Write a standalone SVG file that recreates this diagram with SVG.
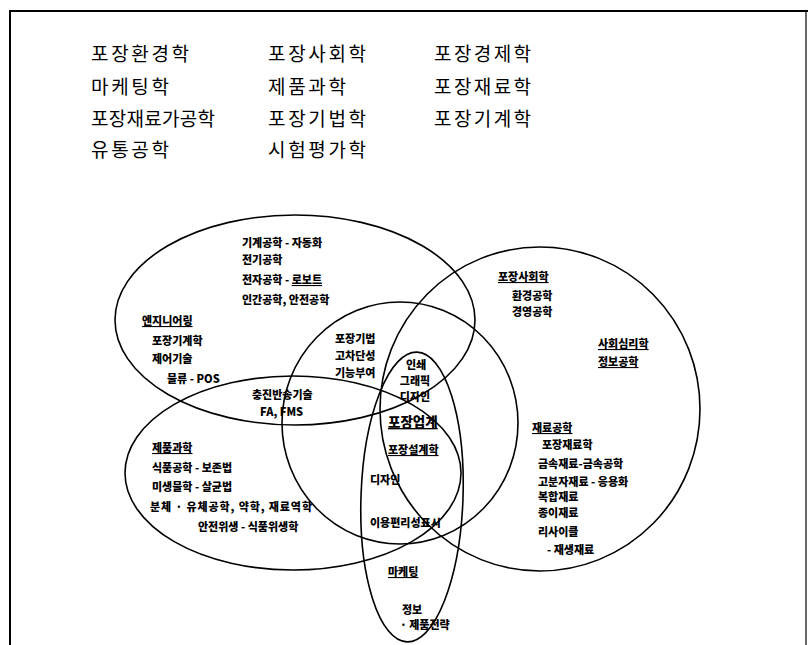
<svg xmlns="http://www.w3.org/2000/svg" width="808" height="645" viewBox="0 0 808 645">
<style>
.ell{fill:none;stroke:#000;stroke-width:1.6}
.lb{font-family:"Noto Sans CJK KR","Noto Sans",sans-serif;font-size:11px;font-weight:900;fill:#000}
.u{text-decoration:underline}
.top{font-family:"Noto Sans CJK KR","Noto Sans",sans-serif;font-size:19px;font-weight:400;fill:#000}
.frame{stroke:#000;stroke-width:2;fill:none}
</style>
<rect width="808" height="645" fill="#fff"/>
<g id="frame">
<line class="frame" x1="10" y1="10" x2="10" y2="645"/>
<line class="frame" x1="10" y1="11" x2="808" y2="11"/>
<line x1="806" y1="11" x2="806" y2="645" stroke="#000" stroke-width="1.2"/>
</g>
<g id="field-list">
<text class="top" x="91" y="60.5" textLength="98" lengthAdjust="spacing">포장환경학</text>
<text class="top" x="268" y="60.5" textLength="98" lengthAdjust="spacing">포장사회학</text>
<text class="top" x="434" y="60.5" textLength="97" lengthAdjust="spacing">포장경제학</text>
<text class="top" x="91" y="93.5" textLength="78" lengthAdjust="spacing">마케팅학</text>
<text class="top" x="268" y="93.5" textLength="78" lengthAdjust="spacing">제품과학</text>
<text class="top" x="434" y="93.5" textLength="97" lengthAdjust="spacing">포장재료학</text>
<text class="top" x="91" y="126" textLength="124" lengthAdjust="spacing">포장재료가공학</text>
<text class="top" x="268" y="126" textLength="98" lengthAdjust="spacing">포장기법학</text>
<text class="top" x="434" y="126" textLength="97" lengthAdjust="spacing">포장기계학</text>
<text class="top" x="91" y="157" textLength="78" lengthAdjust="spacing">유통공학</text>
<text class="top" x="268" y="157" textLength="98" lengthAdjust="spacing">시험평가학</text>
</g>
<g id="engineering">
<ellipse class="ell" cx="295" cy="320" rx="180" ry="105"/>
<text class="lb" x="242" y="247">기계공학 - 자동화</text>
<text class="lb" x="242" y="264">전기공학</text>
<text class="lb" x="242" y="284">전자공학 - <tspan class="u">로보트</tspan></text>
<text class="lb" x="242" y="304">인간공학, 안전공학</text>
<text class="lb u" x="142" y="325">엔지니어링</text>
<text class="lb" x="152" y="345">포장기계학</text>
<text class="lb" x="152" y="363">제어기술</text>
<text class="lb" x="167" y="383">물류 - POS</text>
<text class="lb" x="252" y="399">충진반송기술</text>
<text class="lb" x="260" y="416">FA, FMS</text>
</g>
<g id="product-science">
<ellipse class="ell" cx="293" cy="473" rx="168" ry="97"/>
<text class="lb u" x="152" y="452">제품과학</text>
<text class="lb" x="152" y="472">식품공학 - 보존법</text>
<text class="lb" x="152" y="491">미생물학 - 살균법</text>
<text class="lb" x="150" y="511" textLength="162" lengthAdjust="spacing">분체 · 유체공학, 약학, 재료역학</text>
<text class="lb" x="198" y="531">안전위생 - 식품위생학</text>
</g>
<g id="society">
<ellipse class="ell" cx="540" cy="409" rx="160" ry="162"/>
<text class="lb u" x="498" y="281">포장사회학</text>
<text class="lb" x="512" y="300">환경공학</text>
<text class="lb" x="512" y="316">경영공학</text>
<text class="lb u" x="598" y="348">사회심리학</text>
<text class="lb u" x="598" y="366">정보공학</text>
<text class="lb u" x="532" y="432">재료공학</text>
<text class="lb" x="542" y="449">포장재료학</text>
<text class="lb" x="538" y="468">금속재료-금속공학</text>
<text class="lb" x="538" y="486">고분자재료 - 응용화</text>
<text class="lb" x="538" y="501">복합재료</text>
<text class="lb" x="538" y="517">종이재료</text>
<text class="lb" x="538" y="536">리사이클</text>
<text class="lb" x="547" y="554">- 재생재료</text>
</g>
<g id="packaging-technique">
<ellipse class="ell" cx="400" cy="423" rx="118" ry="121"/>
<text class="lb" x="335" y="343">포장기법</text>
<text class="lb" x="335" y="360">고차단성</text>
<text class="lb" x="335" y="377">기능부여</text>
</g>
<g id="packaging-design">
<ellipse class="ell" cx="412" cy="497" rx="51" ry="145" transform="rotate(2 412 497)"/>
<text class="lb" x="416" y="369" text-anchor="middle">인쇄</text>
<text class="lb" x="415" y="385" text-anchor="middle">그래픽</text>
<text class="lb" x="415" y="401" text-anchor="middle">디자인</text>
<text class="lb u" x="388" y="427" style="font-size:13.5px">포장업계</text>
<text class="lb u" x="388" y="454">포장설계학</text>
<text class="lb" x="370" y="484">디자인</text>
<text class="lb" x="370" y="527">이용편리성표시</text>
<text class="lb u" x="388" y="576">마케팅</text>
<text class="lb" x="402" y="614">정보</text>
<text class="lb" x="400" y="629">· 제품전략</text>
</g>
<g id="connectors"></g>
</svg>
